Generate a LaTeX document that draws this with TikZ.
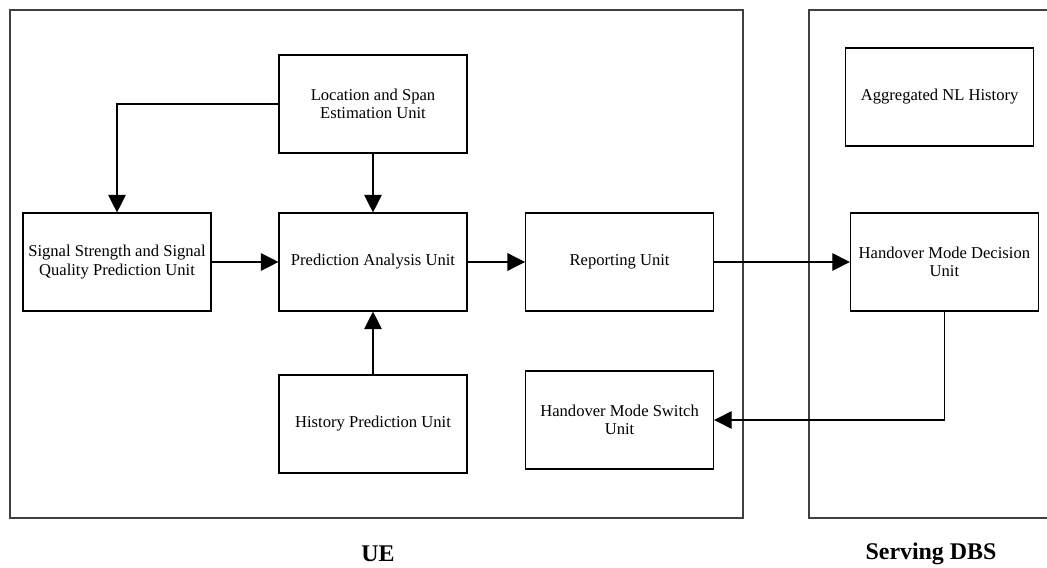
\documentclass[tikz,border=0pt]{standalone}
\usepackage{fontspec}
\setmainfont{Liberation Serif}
\usepackage{tikz}
\usetikzlibrary{arrows.meta,positioning}

\tikzset{
  unitbox/.style={draw, line width=0.8pt, minimum width=4.7cm, minimum height=2.45cm,
    align=center, font=\fontsize{11.8}{13.2}\selectfont},
  frameline/.style={draw=black!75, line width=1pt},
  flow/.style={line width=0.8pt, -{Triangle[length=12.5pt,width=12.5pt]}}
}

\begin{document}
\begin{tikzpicture}[line cap=butt, line join=miter]
		\useasboundingbox (0,0) rectangle (26.175,14.2);
		
		% frames
		\draw[frameline] (0.25,1.25) rectangle (18.575,13.95);
		\draw[frameline] (26.175,13.95) -- (20.225,13.95) -- (20.225,1.25) -- (26.175,1.25);
		\node[font=\fontsize{17}{20}\selectfont\bfseries] (ue) at (9.45,0.35) {UE};
		\node[font=\fontsize{17}{20}\selectfont\bfseries] (dbs) at (23.275,0.35) {Serving DBS};
		
		% UE units
		\node[unitbox] (loc) at (9.325,11.6) {Location and Span\\Estimation Unit};
		\node[unitbox] (sig) at (2.925,7.65) {Signal Strength and Signal\\Quality Prediction Unit};
		\node[unitbox] (pred) at (9.325,7.65) {Prediction Analysis Unit};
		\node[unitbox] (rep) at (15.49,7.65) {Reporting Unit};
		\node[unitbox] (hist) at (9.325,3.6) {History Prediction Unit};
		\node[unitbox] (switch) at (15.49,3.7) {Handover Mode Switch\\Unit};
		
		% DBS units
		\node[unitbox] (agg) at (23.49,11.775) {Aggregated NL History};
		\node[unitbox] (dec) at (23.61,7.65) {Handover Mode Decision\\Unit};
		
		% connectors
		\draw[flow] (loc.west) -| (sig.north);
		\draw[flow] (loc) -- (pred);
		\draw[flow] (sig) -- (pred);
		\draw[flow] (pred) -- (rep);
		\draw[flow] (hist) -- (pred);
		\draw[flow] (rep) -- (dec);
		\draw[flow] (dec.south) |- (switch.east);
	\end{tikzpicture}
\end{document}
